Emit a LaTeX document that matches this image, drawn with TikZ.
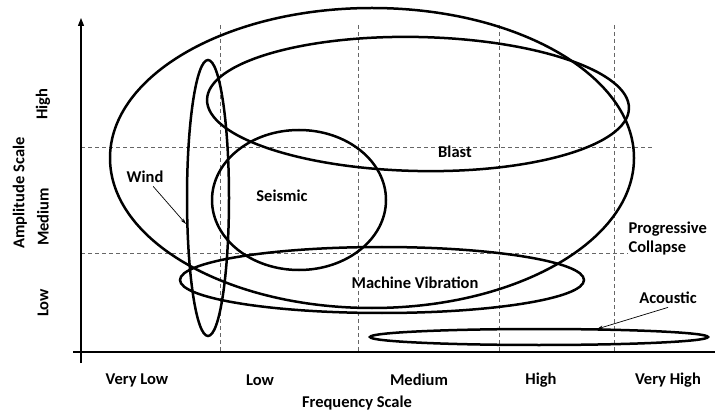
\documentclass[tikz,border=0pt]{standalone}
\usepackage{fontspec}
\setmainfont{Carlito}
\usetikzlibrary{arrows.meta}

\begin{document}
\begin{tikzpicture}[x=1pt, y=-1pt,
    zone/.style={line width=2.5pt},
    gridline/.style={black!60, line width=0.8pt, dash pattern=on 4pt off 3pt},
    lbl/.style={font=\fontsize{16.5}{19}\selectfont\bfseries},
    pointer/.style={-{Stealth[length=6pt,width=3.5pt]}, line width=0.7pt}]
    \useasboundingbox (0,0) rectangle (715,414);
    % grid
    \draw[gridline] (220,25) -- (220,352);
    \draw[gridline] (358,25) -- (358,352);
    \draw[gridline] (499,25) -- (499,352);
    \draw[gridline] (614,25) -- (614,352);
    \draw[gridline] (81,147) -- (653,147);
    \draw[gridline] (81,253) -- (628,253);
    % axes
    \draw[-{Triangle[length=8pt,width=6pt]}, line width=1.2pt] (81,363) -- (81,18);
    \draw[line width=1.2pt] (73,352) -- (715,352);
    % zones
    \draw[zone] (372,158) ellipse [x radius=262, y radius=150];
    \draw[zone, rotate around={-1.2:(418,104)}] (418,104) ellipse [x radius=211, y radius=67];
    \draw[zone] (299,200) ellipse [x radius=87, y radius=70];
    \draw[zone] (208,198) ellipse [x radius=21, y radius=138];
    \draw[zone] (382,280) ellipse [x radius=202, y radius=33];
    \draw[zone] (539,337) ellipse [x radius=169, y radius=8];
    % labels
    \node[lbl] (wind) at (145,177) {Wind};
    \node[lbl] (seismic) at (282,196) {Seismic};
    \node[lbl] (blast) at (455,152) {Blast};
    \node[lbl] (machine) at (415,283) {Machine Vibration};
    \node[lbl, align=left, anchor=west] (collapse) at (625,239) {Progressive\\Collapse};
    \node[lbl] (acoustic) at (668,298) {Acoustic};
    \coordinate (windtip) at (186,224);
    \coordinate (acoustictip) at (597,329);
    \draw[pointer] (wind) -- (windtip);
    \draw[pointer] (acoustic.south) -- (acoustictip);
    % axis labels
    \node[lbl] (verylow) at (137,380) {Very Low};
    \node[lbl] (low) at (260,380) {Low};
    \node[lbl] (medium) at (419,380) {Medium};
    \node[lbl] (high) at (541,380) {High};
    \node[lbl] (veryhigh) at (668,380) {Very High};
    \node[lbl] (freq) at (357,403) {Frequency Scale};
    \node[lbl, rotate=90] (amphigh) at (43,104) {High};
    \node[lbl, rotate=90] (ampmed) at (43,217) {Medium};
    \node[lbl, rotate=90] (amplow) at (43,303) {Low};
    \node[lbl, rotate=90] (amp) at (20,193) {Amplitude Scale};
\end{tikzpicture}
\end{document}
